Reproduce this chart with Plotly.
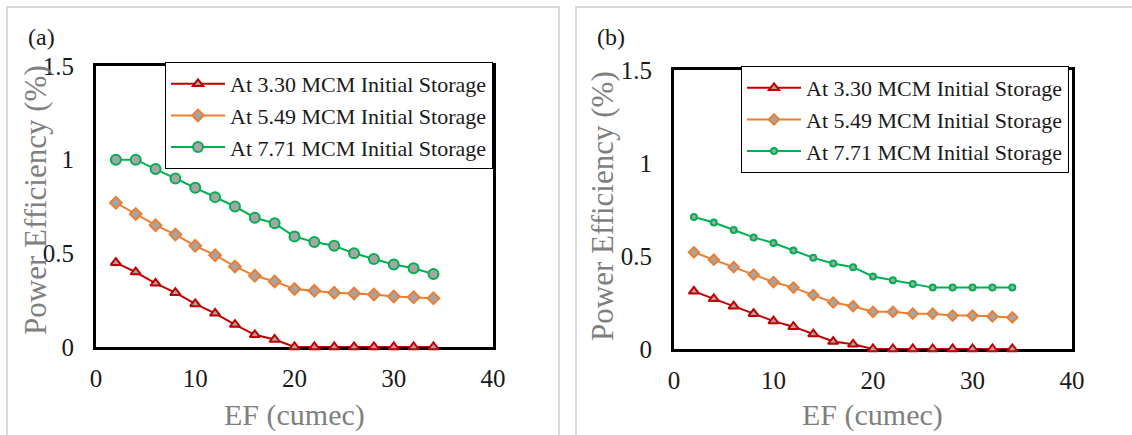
import plotly.graph_objects as go

# Environmental flow (cumec)
ef = [2, 4, 6, 8, 10, 12, 14, 16, 18, 20, 22, 24, 26, 28, 30, 32, 34]

series_names = [
    "At 3.30 MCM Initial Storage",
    "At 5.49 MCM Initial Storage",
    "At 7.71 MCM Initial Storage",
]

# Panel (a) power efficiency (%)
a_330 = [0.45, 0.40, 0.34, 0.29, 0.23, 0.18, 0.12, 0.065, 0.04, 0, 0, 0, 0, 0, 0, 0, 0]
a_549 = [0.77, 0.71, 0.65, 0.60, 0.54, 0.49, 0.43, 0.38, 0.35, 0.31, 0.30, 0.29, 0.285, 0.28, 0.27, 0.265, 0.26]
a_771 = [1.0, 1.0, 0.95, 0.90, 0.85, 0.80, 0.75, 0.69, 0.66, 0.59, 0.56, 0.54, 0.50, 0.47, 0.44, 0.42, 0.39]

# Panel (b) power efficiency (%)
b_330 = [0.31, 0.27, 0.23, 0.19, 0.15, 0.12, 0.08, 0.04, 0.025, 0, 0, 0, 0, 0, 0, 0, 0]
b_549 = [0.52, 0.48, 0.44, 0.40, 0.36, 0.33, 0.29, 0.25, 0.23, 0.20, 0.20, 0.19, 0.19, 0.18, 0.18, 0.175, 0.17]
b_771 = [0.71, 0.68, 0.64, 0.60, 0.57, 0.53, 0.49, 0.46, 0.44, 0.39, 0.37, 0.35, 0.33, 0.33, 0.33, 0.33, 0.33]

x_ticks = [0, 10, 20, 30, 40]
y_ticks = [0, 0.5, 1, 1.5]
y_tick_text = ["0", "0.5", "1", "1.5"]

W, H = 1132, 435
FONT = "Liberation Serif, Times New Roman, serif"
RED, ORANGE, GREEN, GREY = "#C00000", "#ED7D31", "#00B050", "#A5A5A5"

def px_x(p):
    return p / W

def px_y(p):
    return 1 - p / H

fig = go.Figure()

panels = [
    dict(data=[a_330, a_549, a_771], xa="x", ya="y", legend="legend",
         sizes=[9, 9, 10]),
    dict(data=[b_330, b_549, b_771], xa="x2", ya="y2", legend="legend2",
         sizes=[9, 8, 6]),
]
styles = [(RED, "triangle-up"), (ORANGE, "diamond"), (GREEN, "circle")]

for panel in panels:
    for vals, name, (col, sym), sz in zip(panel["data"], series_names, styles, panel["sizes"]):
        fig.add_trace(go.Scatter(
            x=ef, y=vals, name=name, mode="lines+markers",
            xaxis=panel["xa"], yaxis=panel["ya"], legend=panel["legend"],
            line=dict(color=col, width=2),
            marker=dict(symbol=sym, size=sz, color=GREY, line=dict(color=col, width=2)),
            cliponaxis=False,
        ))

axis_common = dict(
    showgrid=False, zeroline=False, showline=True, linecolor="black", linewidth=3,
    mirror=True, ticks="", layer="below traces", automargin=False,
    tickfont=dict(family=FONT, size=25, color="#1a1a1a"),
)

legend_common = dict(
    xanchor="right", yanchor="top",
    bgcolor="white", bordercolor="black", borderwidth=1,
    font=dict(family=FONT, size=22, color="#1a1a1a"),
    tracegroupgap=0, itemwidth=54,
)

fig.update_layout(
    width=W, height=H,
    margin=dict(l=0, r=0, t=0, b=0, autoexpand=False),
    paper_bgcolor="white", plot_bgcolor="white",
    showlegend=True,
    xaxis=dict(domain=[px_x(96), px_x(493)], range=[0, 40], tickvals=x_ticks,
               anchor="y", ticklabelstandoff=7, **axis_common),
    yaxis=dict(domain=[px_y(347), px_y(66)], range=[0, 1.5], tickvals=y_ticks,
               ticktext=y_tick_text, anchor="x", ticklabelstandoff=14, **axis_common),
    xaxis2=dict(domain=[px_x(674), px_x(1072)], range=[0, 40], tickvals=x_ticks,
                anchor="y2", ticklabelstandoff=7, **axis_common),
    yaxis2=dict(domain=[px_y(349), px_y(70)], range=[0, 1.5], tickvals=y_ticks,
                ticktext=y_tick_text, anchor="x2", ticklabelstandoff=14, **axis_common),
    legend=dict(x=px_x(493), y=px_y(62), **legend_common),
    legend2=dict(x=px_x(1069), y=px_y(66), **legend_common),
)

# Light panel frames
frame = dict(type="rect", xref="paper", yref="paper",
             line=dict(color="#DADADA", width=2), fillcolor="rgba(0,0,0,0)", layer="below")
fig.add_shape(x0=px_x(7), x1=px_x(559), y0=-0.1, y1=px_y(7), **frame)
fig.add_shape(x0=px_x(576), x1=1.05, y0=-0.1, y1=px_y(7), **frame)

x_title_font = dict(family=FONT, size=30, color="#7F7F7F")
y_title_font = dict(family=FONT, size=31, color="#7F7F7F")
annotations = [
    dict(text="(a)", x=px_x(41), y=px_y(37), font=dict(family=FONT, size=24, color="#1a1a1a")),
    dict(text="(b)", x=px_x(611), y=px_y(37), font=dict(family=FONT, size=24, color="#1a1a1a")),
    dict(text="EF (cumec)", x=px_x(294), y=px_y(415), font=x_title_font),
    dict(text="EF (cumec)", x=px_x(872), y=px_y(415), font=x_title_font),
    dict(text="Power Efficiency (%)", x=px_x(35), y=px_y(200), textangle=-90, font=y_title_font),
    dict(text="Power Efficiency (%)", x=px_x(602), y=px_y(206), textangle=-90, font=y_title_font),
]
for ann in annotations:
    fig.add_annotation(xref="paper", yref="paper", showarrow=False,
                       xanchor="center", yanchor="middle", **ann)

fig.write_html("out.html")
